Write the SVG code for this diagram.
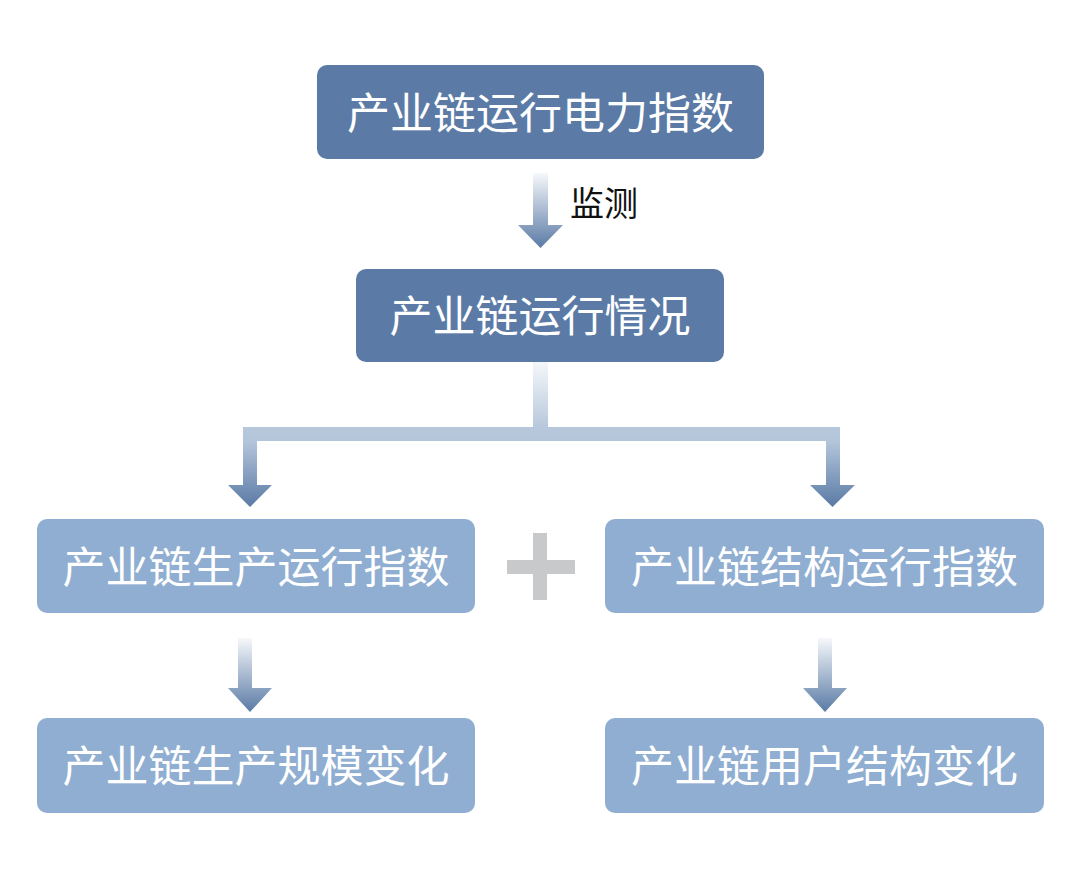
<svg xmlns="http://www.w3.org/2000/svg" width="1080" height="869" viewBox="0 0 1080 869">
<defs>
<linearGradient id="ga" x1="0" y1="0" x2="0" y2="1">
<stop offset="0" stop-color="#f6f8fb"/>
<stop offset="1" stop-color="#5a7aa5"/>
</linearGradient>
<linearGradient id="gb" gradientUnits="userSpaceOnUse" x1="0" y1="362" x2="0" y2="507">
<stop offset="0" stop-color="#f4f7fa"/>
<stop offset="0.45" stop-color="#b7c8dc"/>
<stop offset="0.55" stop-color="#b3c5da"/>
<stop offset="1" stop-color="#5a7aa5"/>
</linearGradient>
<style>
.dk{fill:#5b7ba6}
.lt{fill:#8faed1}
.t{font-family:"Noto Sans CJK SC","Noto Sans",sans-serif;fill:#ffffff;text-anchor:middle;dominant-baseline:central}
</style>
</defs>
<rect width="1080" height="869" fill="#ffffff"/>
<g id="connectors">
<path d="M533 173 H548 V225 H563 L540.5 248 L518 225 H533 Z" fill="url(#ga)"/>
<text x="570" y="201" font-family="Noto Sans CJK SC, sans-serif" font-size="34" fill="#111" dominant-baseline="central">监测</text>
<path d="M533 362 H548 V427 H840 V485 H855 L832.5 507 L810 485 H826 V441 H257 V485 H272 L250 507 L228 485 H243 V427 H533 Z" fill="url(#gb)"/>
<path d="M243 638 H257 V688 H277 L255 712 L233 688 H243 Z" fill="url(#ga)" transform="translate(-5 0)"/>
<path d="M818 638 H832 V688 H847 L825 712 L803 688 H818 Z" fill="url(#ga)"/>
</g>
<g id="plus" fill="#c8c9cb">
<rect x="533" y="533" width="14" height="67"/>
<rect x="507" y="560" width="68" height="14"/>
</g>
<g id="n1"><rect class="dk" x="317" y="65" width="447" height="94" rx="10"/><text class="t" x="540.5" y="110" font-size="43">产业链运行电力指数</text></g>
<g id="n2"><rect class="dk" x="356" y="269" width="368" height="93" rx="10"/><text class="t" x="540" y="313" font-size="43">产业链运行情况</text></g>
<g id="n3"><rect class="lt" x="37" y="519" width="438" height="94" rx="10"/><text class="t" x="256" y="564" font-size="43">产业链生产运行指数</text></g>
<g id="n4"><rect class="lt" x="605" y="519" width="439" height="94" rx="10"/><text class="t" x="824.5" y="564" font-size="43">产业链结构运行指数</text></g>
<g id="n5"><rect class="lt" x="37" y="718" width="438" height="95" rx="10"/><text class="t" x="256" y="763" font-size="43">产业链生产规模变化</text></g>
<g id="n6"><rect class="lt" x="605" y="718" width="439" height="95" rx="10"/><text class="t" x="824.5" y="763" font-size="43">产业链用户结构变化</text></g>
</svg>
